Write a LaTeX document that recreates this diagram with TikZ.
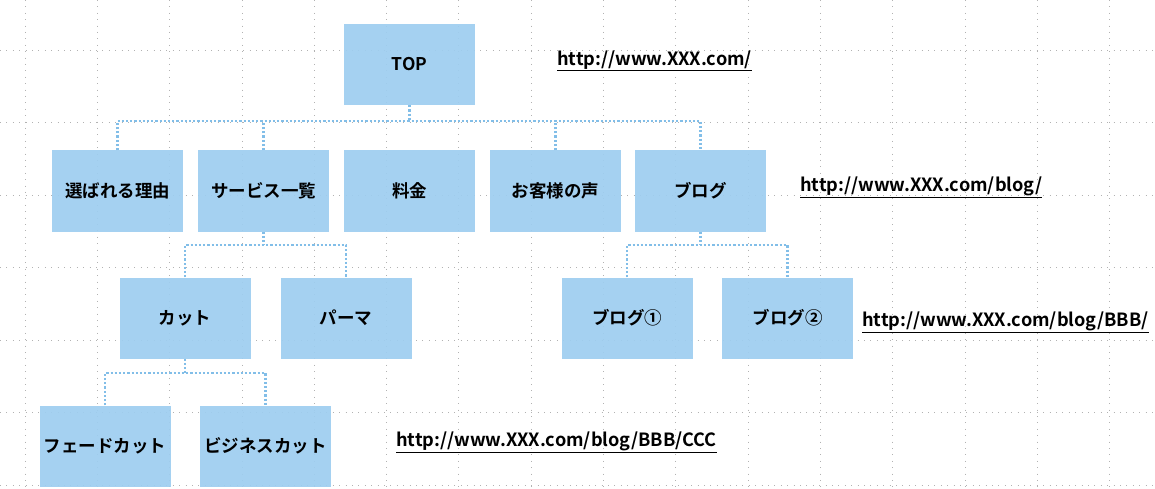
\documentclass[tikz,border=0pt]{standalone}
\usepackage{fontspec}
\setmainfont{Noto Sans CJK JP}[BoldFont={Noto Sans CJK JP Bold}]
\begin{document}
\begin{tikzpicture}[x=1pt,y=-1pt,
 box/.style={fill=boxc,fill opacity=0.92,text opacity=1,minimum width=131pt,minimum height=81pt,inner sep=0pt,font=\fontsize{17.5}{20}\selectfont\bfseries},
 conn/.style={draw=linec,line width=2.2pt,dash pattern=on 2.2pt off 2pt},
 url/.style={font=\fontsize{18.2}{20}\selectfont\bfseries,anchor=west,inner sep=0pt}]
\definecolor{boxc}{RGB}{158,206,240}
\definecolor{linec}{RGB}{130,190,232}
\fill[white] (0,0) rectangle (1155,489);
\useasboundingbox (0,0) rectangle (1155,489);
\foreach \i in {0,...,15} \draw[gray!60,line width=0.8pt,dash pattern=on 0.9pt off 5.5pt] (25+72.3*\i,0) -- (25+72.3*\i,489);
\foreach \j in {0,...,6} \draw[gray!60,line width=0.8pt,dash pattern=on 0.9pt off 5.5pt] (0,50+72.5*\j) -- (1155,50+72.5*\j);
\node[box] (top) at (409.5,64.5) {TOP};
\node[box] (a) at (117.5,191) {選ばれる理由};
\node[box] (b) at (263.5,191) {サービス一覧};
\node[box] (c) at (409.5,191) {料金};
\node[box] (d) at (555.5,191) {お客様の声};
\node[box] (e) at (700.5,191) {ブログ};
\node[box] (f) at (185,318) {カット};
\node[box] (g) at (346,318) {パーマ};
\node[box] (h) at (627,318) {ブログ①};
\node[box] (i) at (787.5,318) {ブログ②};
\node[box] (j) at (105,446) {フェードカット};
\node[box] (k) at (265.5,446) {ビジネスカット};
\coordinate (b1) at (0,121);
\coordinate (b2) at (0,245);
\coordinate (b3) at (0,373);
\draw[conn] (top.south) -- (top.south |- b1);
\draw[conn] (a.north) -- (a.north |- b1) -- (e.north |- b1) -- (e.north);
\foreach \n in {b,d} \draw[conn] (\n.north) -- (\n.north |- b1);
\draw[conn] (b.south) -- (b.south |- b2);
\draw[conn] (f.north) -- (f.north |- b2) -- (g.north |- b2) -- (g.north);
\draw[conn] (e.south) -- (e.south |- b2);
\draw[conn] (h.north) -- (h.north |- b2) -- (i.north |- b2) -- (i.north);
\draw[conn] (f.south) -- (f.south |- b3);
\draw[conn] (j.north) -- (j.north |- b3) -- (k.north |- b3) -- (k.north);
\node[url] (u1) at (557,61) {\underline{http://www.XXX.com/}};
\node[url] (u2) at (800,187) {\underline{http://www.XXX.com/blog/}};
\node[url] (u3) at (862,322) {\underline{http://www.XXX.com/blog/BBB/}};
\node[url] (u4) at (396,442) {\underline{http://www.XXX.com/blog/BBB/CCC}};
\end{tikzpicture}
\end{document}
